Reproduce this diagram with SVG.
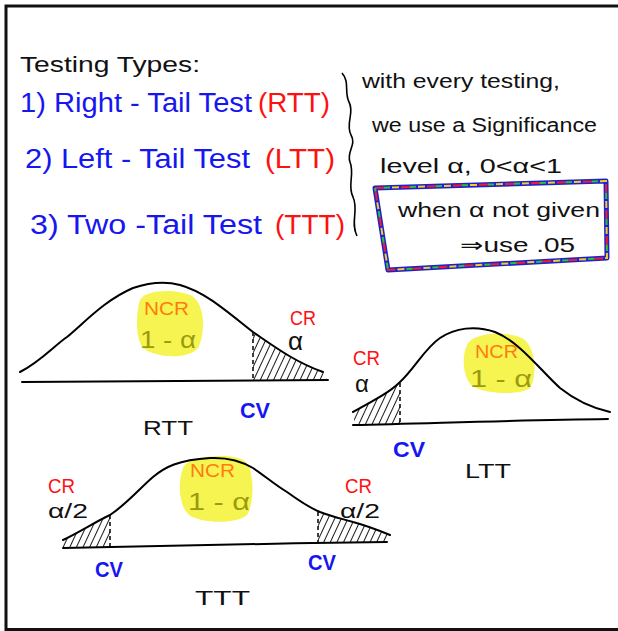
<svg xmlns="http://www.w3.org/2000/svg" width="618" height="631" viewBox="0 0 618 631">
<style>
text{font-family:"Liberation Sans","DejaVu Sans",sans-serif}
.k{fill:#111}
.b{fill:#1616f0}
.r{fill:#ff1010}
.o{fill:#ff7a10}
.ol{fill:#9a9a10}
.curve{fill:none;stroke:#000;stroke-width:2;stroke-linecap:round}
.dash{fill:none;stroke:#000;stroke-width:1.5;stroke-dasharray:4 3}
.hl{fill:#f4f232;opacity:0.85}
.hatch{fill:url(#hatch)}
</style>
<defs>
<pattern id="hatch" patternUnits="userSpaceOnUse" width="6" height="6" patternTransform="rotate(25)">
<line x1="0" y1="0" x2="0" y2="6" stroke="#000" stroke-width="1.8"/>
</pattern>
</defs>
<rect width="618" height="631" fill="#fff"/>
<g id="frame">
<path d="M6,631 L6,6 L618,6" fill="none" stroke="#111" stroke-width="3"/>
<path d="M6,629.5 L618,629.5" fill="none" stroke="#111" stroke-width="3"/>
</g>
<g id="types">
<text x="20" y="72" font-size="22" class="k" textLength="180" lengthAdjust="spacingAndGlyphs">Testing Types:</text>
<text x="20" y="112" font-size="27" class="b" textLength="232" lengthAdjust="spacingAndGlyphs">1) Right - Tail Test</text>
<text x="258" y="112" font-size="27" class="r" textLength="72" lengthAdjust="spacingAndGlyphs">(RTT)</text>
<text x="25" y="168" font-size="27" class="b" textLength="225" lengthAdjust="spacingAndGlyphs">2) Left - Tail Test</text>
<text x="265" y="168" font-size="27" class="r" textLength="70" lengthAdjust="spacingAndGlyphs">(LTT)</text>
<text x="30" y="234" font-size="27" class="b" textLength="232" lengthAdjust="spacingAndGlyphs">3) Two -Tail Test</text>
<text x="275" y="234" font-size="27" class="r" textLength="70" lengthAdjust="spacingAndGlyphs">(TTT)</text>
</g>
<g id="brace">
<path d="M342,73 C350,82 344,92 349,102 C355,113 345,123 351,135 C357,145 346,152 350,162 C355,174 347,186 353,197 C359,210 350,222 357,236" fill="none" stroke="#000" stroke-width="1.6"/>
</g>
<g id="note">
<text x="362" y="88" font-size="20" class="k" textLength="198" lengthAdjust="spacingAndGlyphs">with every testing,</text>
<text x="372" y="132" font-size="20" class="k" textLength="225" lengthAdjust="spacingAndGlyphs">we use a Significance</text>
<text x="380" y="173" font-size="20" class="k" textLength="182" lengthAdjust="spacingAndGlyphs">level α, 0&lt;α&lt;1</text>
</g>
<g id="box">
<path d="M375,188 L606,181 L607,258 L388,270 Z" fill="none" stroke="#2020d0" stroke-width="5" stroke-linejoin="round"/>
<path d="M375,188 L606,181 L607,258 L388,270 Z" fill="none" stroke="#ee2020" stroke-width="2" stroke-dasharray="9 17"/>
<path d="M375,188 L606,181 L607,258 L388,270 Z" fill="none" stroke="#f0d020" stroke-width="2" stroke-dasharray="7 19" stroke-dashoffset="9"/>
<path d="M375,188 L606,181 L607,258 L388,270 Z" fill="none" stroke="#30c030" stroke-width="2" stroke-dasharray="6 20" stroke-dashoffset="17"/>
<text x="398" y="217" font-size="20" class="k" textLength="202" lengthAdjust="spacingAndGlyphs">when α not given</text>
<text x="460" y="252" font-size="20" class="k" textLength="115" lengthAdjust="spacingAndGlyphs">⇒use .05</text>
</g>
<g id="rtt">
<path class="hl" d="M140,300 C145,290 175,288 192,296 C206,305 205,335 198,348 C188,360 155,358 143,348 C135,338 136,312 140,300 Z"/>
<path class="hatch" d="M253,332 C275,347 295,362 323,372 L328,381 L253,381 Z"/>
<path class="curve" d="M20,372 C40,362 55,345 67,337 C85,322 105,300 133,288 C148,283 165,281 180,285 C205,292 225,310 253,332 C275,347 295,362 323,372"/>
<path class="curve" d="M22,382 C120,381 220,380 328,380"/>
<path class="dash" d="M253,332 L253,381"/>
<text x="144" y="315" font-size="19" class="o" textLength="45" lengthAdjust="spacingAndGlyphs">NCR</text>
<text x="140" y="348" font-size="24" class="ol" textLength="56" lengthAdjust="spacingAndGlyphs">1 - α</text>
<text x="290" y="325" font-size="21" class="r" textLength="26" lengthAdjust="spacingAndGlyphs">CR</text>
<text x="288" y="350" font-size="26" class="k">α</text>
<text x="240" y="418" font-size="22" class="b" font-weight="bold" textLength="30" lengthAdjust="spacingAndGlyphs">CV</text>
<text x="143" y="435" font-size="21" class="k" textLength="50" lengthAdjust="spacingAndGlyphs">RTT</text>
</g>
<g id="ltt">
<path class="hl" d="M467,345 C472,333 505,330 522,338 C537,347 537,378 530,388 C518,396 485,394 472,386 C462,376 462,355 467,345 Z"/>
<path class="hatch" d="M353,412 C375,400 390,392 400,382 L400,425 L355,425 Z"/>
<path class="curve" d="M353,412 C375,400 390,392 400,382 C415,368 425,348 440,338 C455,328 475,325 495,332 C520,342 540,370 560,388 C575,400 592,408 610,412"/>
<path class="curve" d="M353,425 C440,423 520,420 608,419"/>
<path class="dash" d="M400,383 L400,425"/>
<text x="475" y="358" font-size="19" class="o" textLength="43" lengthAdjust="spacingAndGlyphs">NCR</text>
<text x="470" y="387" font-size="24" class="ol" textLength="62" lengthAdjust="spacingAndGlyphs">1 - α</text>
<text x="353" y="365" font-size="21" class="r" textLength="27" lengthAdjust="spacingAndGlyphs">CR</text>
<text x="355" y="392" font-size="24" class="k">α</text>
<text x="393" y="457" font-size="22" class="b" font-weight="bold" textLength="32" lengthAdjust="spacingAndGlyphs">CV</text>
<text x="465" y="478" font-size="21" class="k" textLength="46" lengthAdjust="spacingAndGlyphs">LTT</text>
</g>
<g id="ttt">
<path class="hl" d="M183,468 C188,455 235,452 246,462 C255,472 254,505 247,515 C235,525 200,523 189,515 C178,505 178,480 183,468 Z"/>
<path class="hatch" d="M63,540 C80,532 95,522 110,515 L110,548 L63,548 Z"/>
<path class="hatch" d="M318,511 C333,517 343,519 353,522 C368,526 378,530 390,535 L387,542 L318,543 Z"/>
<path class="curve" d="M63,540 C80,532 95,522 110,515 C128,503 140,488 153,477 C165,467 178,460 210,458 C230,457 243,462 253,468 C265,476 275,485 287,492 C298,500 308,507 320,512 C333,517 343,519 353,522 C368,526 378,530 390,535"/>
<path class="curve" d="M63,548 C180,546 280,543 387,542"/>
<path class="dash" d="M110,515 L110,548"/>
<path class="dash" d="M318,512 L318,543"/>
<text x="190" y="477" font-size="19" class="o" textLength="45" lengthAdjust="spacingAndGlyphs">NCR</text>
<text x="188" y="510" font-size="24" class="ol" textLength="62" lengthAdjust="spacingAndGlyphs">1 - α</text>
<text x="48" y="493" font-size="21" class="r" textLength="27" lengthAdjust="spacingAndGlyphs">CR</text>
<text x="48" y="518" font-size="20" class="k" textLength="40" lengthAdjust="spacingAndGlyphs">α/2</text>
<text x="345" y="493" font-size="21" class="r" textLength="27" lengthAdjust="spacingAndGlyphs">CR</text>
<text x="340" y="518" font-size="20" class="k" textLength="40" lengthAdjust="spacingAndGlyphs">α/2</text>
<text x="95" y="577" font-size="22" class="b" font-weight="bold" textLength="28" lengthAdjust="spacingAndGlyphs">CV</text>
<text x="308" y="570" font-size="22" class="b" font-weight="bold" textLength="28" lengthAdjust="spacingAndGlyphs">CV</text>
<text x="195" y="605" font-size="21" class="k" textLength="55" lengthAdjust="spacingAndGlyphs">TTT</text>
</g>
</svg>
